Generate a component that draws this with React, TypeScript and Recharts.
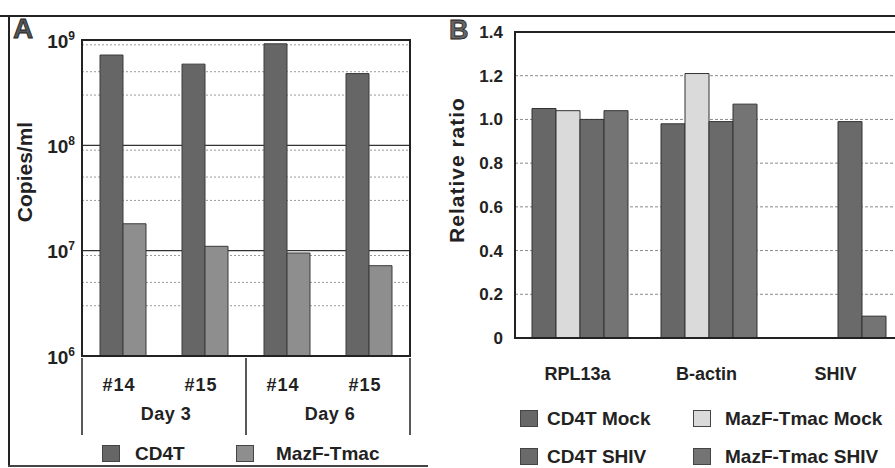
import React from 'react';
import { BarChart, Bar, XAxis, YAxis, CartesianGrid, ReferenceArea } from 'recharts';

// Panel A: viral copies (log scale)
const samples = ['#14', '#15', '#14', '#15'];
const days = ['Day 3', 'Day 3', 'Day 6', 'Day 6'];
const cd4tCopies = [7.2e8, 5.9e8, 9.2e8, 4.8e8];
const mazfCopies = [1.8e7, 1.1e7, 9.5e6, 7.2e6];
const copyTicks = [1e6, 1e7, 1e8, 1e9];
const minorSteps = [2, 3, 4, 5, 6, 7, 8, 9];

// Panel B: relative ratio
const genes = ['RPL13a', 'B-actin', 'SHIV'];
const cd4tMock = [1.05, 0.98, 0];
const mazfMock = [1.04, 1.21, 0];
const cd4tShiv = [1.0, 0.99, 0.99];
const mazfShiv = [1.04, 1.07, 0.1];
const ratioTicks = [0, 0.2, 0.4, 0.6, 0.8, 1.0, 1.2, 1.4];

const seriesA = [
  { key: 'cd4t', name: 'CD4T', color: '#666666' },
  { key: 'mazf', name: 'MazF-Tmac', color: '#8e8e8e' },
];
const seriesB = [
  { key: 'cd4tMock', name: 'CD4T Mock', color: '#676767' },
  { key: 'mazfMock', name: 'MazF-Tmac Mock', color: '#dadada' },
  { key: 'cd4tShiv', name: 'CD4T SHIV', color: '#6a6a6a' },
  { key: 'mazfShiv', name: 'MazF-Tmac SHIV', color: '#747474' },
];

const copiesData = samples.map((s, i) => ({ sample: s, day: days[i], cd4t: cd4tCopies[i], mazf: mazfCopies[i] }));
const ratioData = genes.map((g, i) => ({
  gene: g,
  cd4tMock: cd4tMock[i],
  mazfMock: mazfMock[i],
  cd4tShiv: cd4tShiv[i],
  mazfShiv: mazfShiv[i],
}));
const minorValues = copyTicks.slice(0, 3).flatMap((d) => minorSteps.map((m) => m * d));

const FONT = '"Liberation Sans", Arial, sans-serif';
const INK = '#222';

const PowerTick = (props: any) => {
  const { x, y, payload } = props;
  const exp = Math.round(Math.log10(payload.value));
  return (
    <text x={x} y={y} dy="0.4em" textAnchor="end" fill={INK} fontFamily={FONT} fontWeight="bold" fontSize={19}>
      <tspan>10</tspan>
      <tspan dy={-8} fontSize={12}>{exp}</tspan>
    </text>
  );
};

const SampleTick = (props: any) => {
  const { x, y, payload } = props;
  return (
    <text x={x - 4} y={y + 27} dy="0.35em" textAnchor="middle" fill={INK} fontFamily={FONT} fontWeight="bold" fontSize={18} letterSpacing={1}>
      {payload.value}
    </text>
  );
};

const DayTick = (props: any) => {
  const { x, y, payload, index, width, visibleTicksCount } = props;
  const half = payload.offset || width / (2 * visibleTicksCount);
  return (
    <g>
      {index === 0 && <line x1={x - half} x2={x - half} y1={y - 40} y2={y + 37} stroke="#222" strokeWidth={1.5} />}
      <line x1={x + half} x2={x + half} y1={y - 40} y2={y + 37} stroke="#222" strokeWidth={1.5} />
      <text x={x + 2} y={y + 16} dy="0.35em" textAnchor="middle" fill={INK} fontFamily={FONT} fontWeight="bold" fontSize={18} letterSpacing={0.5}>
        {payload.value}
      </text>
    </g>
  );
};

const GeneTick = (props: any) => {
  const { x, y, payload } = props;
  return (
    <text x={x - 2} y={y + 34} dy="0.35em" textAnchor="middle" fill={INK} fontFamily={FONT} fontWeight="bold" fontSize={18}>
      {payload.value}
    </text>
  );
};

const swatch = (color: string) => ({
  display: 'inline-block',
  width: 18,
  height: 17,
  background: color,
  border: '1px solid #444',
  boxSizing: 'border-box' as const,
});

const abs = (left: number, top: number): React.CSSProperties => ({ position: 'absolute', left, top });

export default function App() {
  const legendText: React.CSSProperties = { fontFamily: FONT, fontWeight: 'bold', fontSize: 19, color: INK, whiteSpace: 'nowrap', lineHeight: '21px' };
  const axisTitle: React.CSSProperties = {
    transform: 'translate(-50%, -50%) rotate(-90deg)',
    fontFamily: FONT,
    fontWeight: 'bold',
    fontSize: 21,
    color: INK,
    whiteSpace: 'nowrap',
    lineHeight: 1,
  };
  return (
    <div style={{ position: 'fixed', left: 0, top: 0, width: 895, height: 468, overflow: 'hidden', background: '#fff' }}>
      {/* figure frame */}
      <div style={{ position: 'absolute', left: 0, top: 15, width: 895, height: 2, background: '#222' }} />
      <div style={{ position: 'absolute', left: 8, top: 15, width: 2, height: 452, background: '#222' }} />
      <div style={{ position: 'absolute', left: 8, top: 465, width: 420, height: 2, background: '#444' }} />

      <div style={{ ...abs(13, 14), fontFamily: FONT, fontWeight: 'bold', fontSize: 28, color: '#555', WebkitTextStroke: '0.8px #222', lineHeight: 1.1 }}>A</div>
      <div style={{ ...abs(449, 16), fontFamily: FONT, fontWeight: 'bold', fontSize: 27, color: '#666', WebkitTextStroke: '0.8px #222', lineHeight: 1.1 }}>B</div>

      {/* Panel A */}
      <div style={abs(0, 0)}>
        <BarChart width={430} height={440} data={copiesData} margin={{ top: 40, right: 20, left: 0, bottom: 0 }} barGap={0} barSize={23}>
          <CartesianGrid vertical={false} horizontalValues={minorValues} stroke="#9a9a9a" strokeDasharray="2 2" />
          <CartesianGrid vertical={false} stroke="#333" strokeWidth={1.2} />
          <XAxis xAxisId="b2" dataKey="day" allowDuplicatedCategory={false} height={44} axisLine={false} tickLine={false} tickSize={0} tick={<DayTick />} interval={0} />
          <XAxis xAxisId="a1" dataKey="sample" height={40} axisLine={{ stroke: '#222', strokeWidth: 2 }} tickLine={false} tickSize={0} tick={<SampleTick />} interval={0} />
          <YAxis
            type="number"
            scale="log"
            domain={[1e6, 1e9]}
            ticks={copyTicks}
            allowDataOverflow
            width={82}
            axisLine={{ stroke: '#222', strokeWidth: 2 }}
            tickLine={false}
            tickSize={0}
            tickMargin={7}
            tick={<PowerTick />}
          />
          <ReferenceArea xAxisId="a1" y1={1e6} y2={1e9} fill="none" stroke="#222" strokeWidth={2} />
          {seriesA.map((s) => (
            <Bar key={s.key} xAxisId="a1" dataKey={s.key} name={s.name} fill={s.color} stroke="#3a3a3a" strokeWidth={1} isAnimationActive={false} />
          ))}
        </BarChart>
      </div>
      <div style={{ ...abs(24, 172), ...axisTitle }}>Copies/ml</div>
      {seriesA.map((s, i) => (
        <div key={s.key} style={{ ...abs(i === 0 ? 102 : 236, 443), display: 'flex', alignItems: 'center', gap: i === 0 ? 15 : 22 }}>
          <span style={swatch(s.color)} />
          <span style={legendText}>{s.name}</span>
        </div>
      ))}

      {/* Panel B */}
      <div style={abs(418, 0)}>
        <BarChart width={500} height={390} data={ratioData} margin={{ top: 32, right: 16, left: 0, bottom: 0 }} barGap={0} barSize={24}>
          <CartesianGrid vertical={false} stroke="#8a8a8a" strokeDasharray="3 2" />
          <XAxis dataKey="gene" height={52} axisLine={{ stroke: '#222', strokeWidth: 2 }} tickLine={false} tickSize={0} tick={<GeneTick />} interval={0} />
          <YAxis
            type="number"
            domain={[0, 1.4]}
            ticks={ratioTicks}
            width={97}
            axisLine={{ stroke: '#222', strokeWidth: 1.5 }}
            tickLine={false}
            tickSize={0}
            tickMargin={12}
            tick={{ fill: INK, fontFamily: FONT, fontWeight: 'bold', fontSize: 17 }}
            tickFormatter={(v: number) => (v === 0 ? '0' : v.toFixed(1))}
          />
          <ReferenceArea y1={0} y2={1.4} fill="none" stroke="#222" strokeWidth={2} />
          {seriesB.map((s) => (
            <Bar key={s.key} dataKey={s.key} name={s.name} fill={s.color} stroke="#333" strokeWidth={1} isAnimationActive={false} />
          ))}
        </BarChart>
      </div>
      <div style={{ ...abs(456, 170), ...axisTitle, letterSpacing: 1 }}>Relative ratio</div>
      {seriesB.map((s, i) => (
        <div key={s.key} style={{ ...abs(i % 2 === 0 ? 520 : 693, i < 2 ? 408 : 446), display: 'flex', alignItems: 'center', gap: i % 2 === 0 ? 9 : 14 }}>
          <span style={swatch(s.color)} />
          <span style={legendText}>{s.name}</span>
        </div>
      ))}
    </div>
  );
}
